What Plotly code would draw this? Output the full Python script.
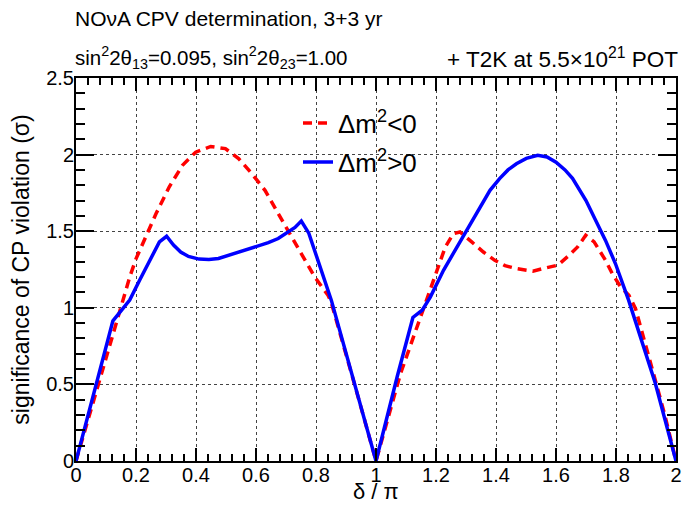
import plotly.graph_objects as go

# Δm^2 < 0 (inverted hierarchy), red dashed
red_x = [0, 0.145, 0.179, 0.2, 0.222, 0.267, 0.311, 0.355, 0.399, 0.449, 0.498, 0.542,
         0.586, 0.63, 0.674, 0.718, 0.763, 0.796, 0.84, 0.85, 0.93, 1.0, 1.082, 1.132,
         1.17, 1.203, 1.231, 1.258, 1.28, 1.319, 1.358, 1.396, 1.43, 1.468, 1.501, 1.523,
         1.556, 1.606, 1.644, 1.672, 1.699, 1.727, 1.765, 1.787, 1.815, 1.843, 1.865,
         1.898, 1.931, 1.964, 2.0]
red_y = [0, 0.985, 1.20, 1.32, 1.42, 1.615, 1.79, 1.93, 2.016, 2.053, 2.039, 1.974,
         1.876, 1.767, 1.615, 1.462, 1.31, 1.20, 1.082, 1.04, 0.49, 0, 0.572, 0.854,
         1.07, 1.245, 1.397, 1.484, 1.495, 1.43, 1.364, 1.31, 1.275, 1.256, 1.245, 1.239,
         1.256, 1.278, 1.343, 1.397, 1.473, 1.43, 1.31, 1.225, 1.137, 1.082, 0.995,
         0.767, 0.528, 0.29, 0]

# Δm^2 > 0 (normal hierarchy), blue solid
blue_x = [0, 0.123, 0.15, 0.179, 0.212, 0.25, 0.278, 0.302, 0.325, 0.349, 0.375, 0.41,
          0.443, 0.475, 0.509, 0.542, 0.597, 0.641, 0.674, 0.707, 0.73, 0.751, 0.776,
          0.851, 0.928, 1.0, 1.071, 1.123, 1.154, 1.181, 1.225, 1.292, 1.336, 1.38,
          1.412, 1.44, 1.468, 1.501, 1.539, 1.57, 1.6, 1.63, 1.655, 1.7, 1.732, 1.749,
          1.765, 1.798, 1.842, 1.931, 2.0]
blue_y = [0, 0.915, 0.98, 1.05, 1.18, 1.32, 1.43, 1.467, 1.41, 1.364, 1.335, 1.318,
          1.315, 1.322, 1.343, 1.358, 1.397, 1.425, 1.452, 1.495, 1.525, 1.566, 1.487,
          1.05, 0.507, 0, 0.553, 0.937, 0.984, 1.07, 1.245, 1.473, 1.625, 1.767,
          1.843, 1.90, 1.94, 1.975, 1.995, 1.985, 1.95, 1.90, 1.845, 1.70, 1.571, 1.506,
          1.44, 1.289, 1.05, 0.507, 0]

FONT = "Liberation Sans, Arial, Helvetica, sans-serif"

fig = go.Figure()
fig.add_trace(go.Scatter(
    x=red_x, y=red_y, mode="lines", name="Δm<sup>2</sup>&lt;0",
    line=dict(color="#ff0000", width=3.5, dash="9px,6px"), legend="legend"))
fig.add_trace(go.Scatter(
    x=blue_x, y=blue_y, mode="lines", name="Δm<sup>2</sup>&gt;0",
    line=dict(color="#0000ff", width=3.5), legend="legend2"))

axis_common = dict(
    showline=True, linecolor="black", linewidth=2, mirror="allticks",
    ticks="inside", tickcolor="black", tickwidth=1.5,
    showgrid=True, gridcolor="#444444", griddash="dot", gridwidth=1,
    zeroline=False, tickfont=dict(family=FONT, size=20, color="black"),
)

fig.update_layout(
    width=686, height=505,
    margin=dict(l=76, r=4, t=78, b=44),
    paper_bgcolor="white", plot_bgcolor="white",
    font=dict(family=FONT, color="black"),
    xaxis=dict(range=[0, 2], dtick=0.2, tick0=0, ticklen=13,
               ticklabelstandoff=-5,
               minor=dict(dtick=0.04, ticklen=7, ticks="inside", tickcolor="black",
                          showgrid=False),
               **axis_common),
    yaxis=dict(range=[0, 2.5], dtick=0.5, tick0=0, ticklen=18,
               ticklabelstandoff=-4,
               minor=dict(dtick=0.1, ticklen=9, ticks="inside", tickcolor="black",
                          showgrid=False),
               title=dict(text="significance of CP violation (σ)",
                          font=dict(family=FONT, size=23), standoff=10),
               **axis_common),
    legend=dict(x=0.37, y=(461 - 123) / 383, xanchor="left", yanchor="middle",
                bgcolor="rgba(0,0,0,0)", font=dict(family=FONT, size=26)),
    legend2=dict(x=0.37, y=(461 - 162) / 383, xanchor="left", yanchor="middle",
                 bgcolor="rgba(0,0,0,0)", font=dict(family=FONT, size=26)),
    showlegend=True,
)

# x-axis title
fig.add_annotation(text="δ / π", xref="paper", yref="paper",
                   x=0.5, y=(461 - 506) / 383, xanchor="center", yanchor="bottom",
                   showarrow=False, font=dict(family=FONT, size=22))

fig.add_annotation(text="NOνA CPV determination, 3+3 yr", xref="paper", yref="paper",
                   x=-0.005, y=(461 - 18) / 383, xanchor="left", yanchor="middle",
                   showarrow=False, font=dict(family=FONT, size=21))
fig.add_annotation(text="sin<sup>2</sup>2θ<sub>13</sub>=0.095, sin<sup>2</sup>2θ<sub>23</sub>=1.00",
                   xref="paper", yref="paper",
                   x=-0.005, y=(461 - 58) / 383, xanchor="left", yanchor="middle",
                   showarrow=False, font=dict(family=FONT, size=20.5))
fig.add_annotation(text="+ T2K at 5.5×10<sup>21</sup> POT", xref="paper", yref="paper",
                   x=1.007, y=(461 - 58) / 383, xanchor="right", yanchor="middle",
                   showarrow=False, font=dict(family=FONT, size=22.5))

fig.write_html("out.html")
